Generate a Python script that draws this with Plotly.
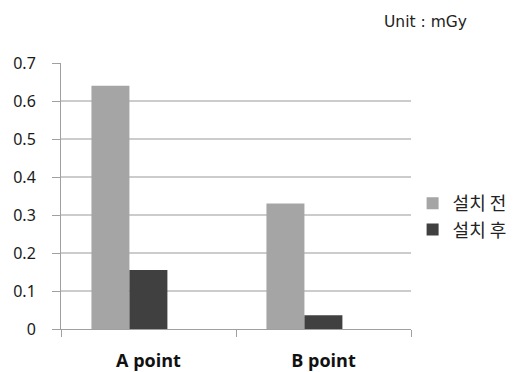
import plotly.graph_objects as go

categories = ["A point", "B point"]
series_names = ["설치 전", "설치 후"]
before_values = [0.64, 0.33]
after_values = [0.155, 0.036]
y_ticks = [0, 0.1, 0.2, 0.3, 0.4, 0.5, 0.6, 0.7]
y_tick_labels = ["0", "0.1", "0.2", "0.3", "0.4", "0.5", "0.6", "0.7"]

# bar geometry in category units (one category slot = 1.0)
bar_width = 0.217
offsets = [-0.326, -0.109]

fig = go.Figure()
fig.add_trace(go.Bar(x=categories, y=before_values, name=series_names[0],
                     width=bar_width, offset=offsets[0],
                     marker=dict(color="#a5a5a5", line=dict(width=0))))
fig.add_trace(go.Bar(x=categories, y=after_values, name=series_names[1],
                     width=bar_width, offset=offsets[1],
                     marker=dict(color="#404040", line=dict(width=0))))

fig.update_layout(
    width=519, height=372,
    margin=dict(l=61, r=108, t=63, b=43, autoexpand=False),
    paper_bgcolor="white", plot_bgcolor="white",
    barmode="overlay",
    font=dict(family="Noto Sans, Noto Sans CJK KR", color="#222222"),
    showlegend=True,
    legend=dict(xref="container", yref="container", x=0.795, y=0.418,
                xanchor="left", yanchor="middle",
                font=dict(size=18, family="Noto Sans CJK KR", color="#222222"),
                itemwidth=30, tracegroupgap=0, bgcolor="rgba(0,0,0,0)"),
    xaxis=dict(tickson="boundaries", ticks="outside", ticklen=7, tickcolor="#a0a0a0",
               showline=True, linecolor="#a0a0a0", linewidth=1, automargin=False,
               tickfont=dict(size=18, family="Open Sans", color="#111111", weight="bold"),
               ticklabelstandoff=15),
    yaxis=dict(range=[0, 0.7], tickvals=y_ticks, ticktext=y_tick_labels,
               ticks="outside", ticklen=8, tickcolor="#a0a0a0",
               showline=True, linecolor="#a0a0a0", linewidth=1, automargin=False,
               showgrid=True, gridcolor="#cccccc", gridwidth=1.5,
               zeroline=False,
               tickfont=dict(size=16, family="Noto Sans", color="#1a1a1a"),
               ticklabelstandoff=13),
    annotations=[dict(text="Unit : mGy", xref="paper", yref="paper", x=0.918, y=1.155,
                      xanchor="left", yanchor="middle", showarrow=False,
                      font=dict(size=15.5, family="DejaVu Sans", color="#222222"))],
)

fig.write_html("out.html")
